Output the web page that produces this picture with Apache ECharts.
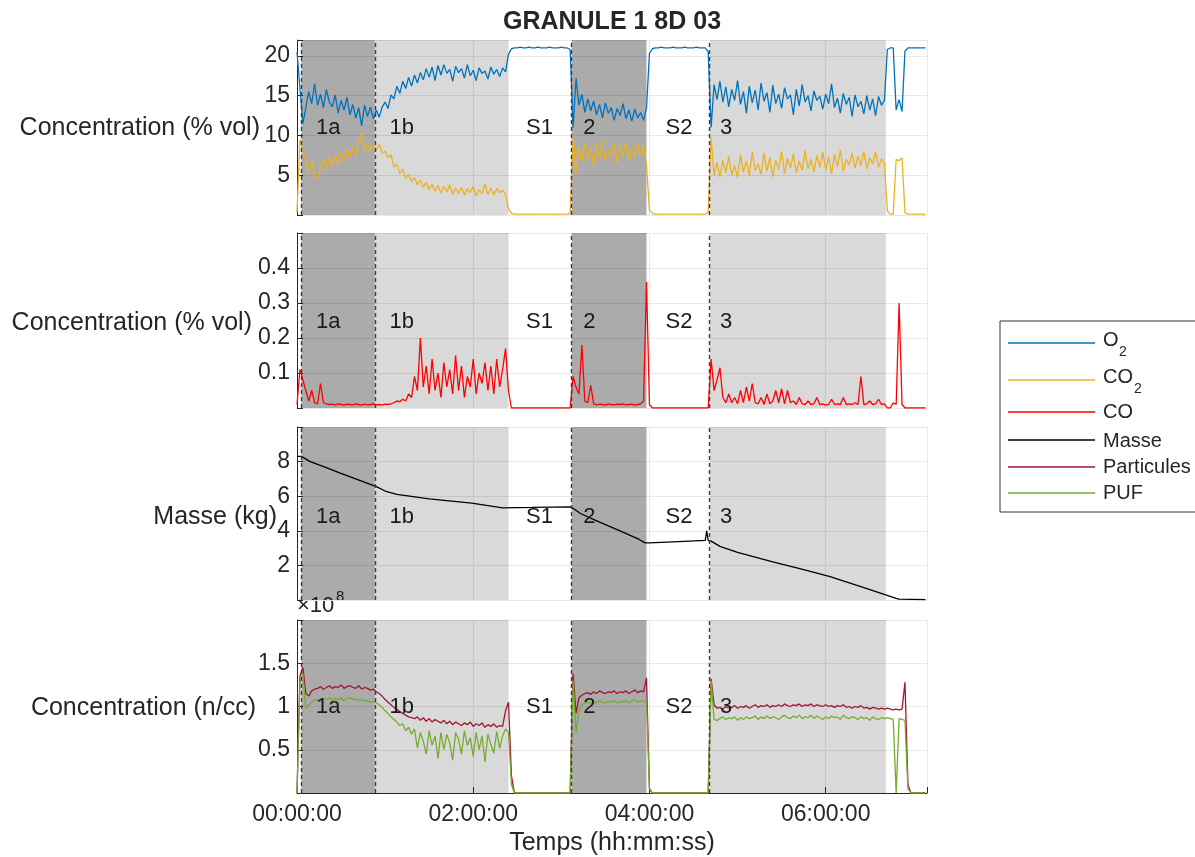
<!DOCTYPE html>
<html>
<head>
<meta charset="utf-8">
<script src="https://cdn.jsdelivr.net/npm/echarts@6/dist/echarts.min.js"></script>
<style>html,body{margin:0;padding:0;background:#fff}#c{width:1195px;height:857px}</style>
</head>
<body>
<div id="c"></div>
<script>
// ---------------- DATA ----------------
// gas & particle records sampled every STEP_MIN minutes from 00:00:00
const STEP_MIN = 2;

const o2 = [ // % vol
 20.5,16.0,11.5,13.5,15.5,14.0,16.5,13.8,15.2,13.5,
 15.8,14.2,13.6,15.1,12.8,14.4,13.2,14.8,12.6,13.9,
 12.2,13.5,11.2,13.8,12.4,13.6,12.1,13.2,12.3,13.6,
 14.2,13.4,15.1,14.6,16.2,15.3,16.8,15.9,17.3,16.2,
 17.6,16.6,17.9,17.0,18.4,17.3,18.6,16.9,18.8,17.6,
 18.9,17.8,18.3,16.8,18.7,17.9,18.4,17.2,18.9,17.5,
 18.2,16.9,18.5,17.8,18.1,17.1,18.6,17.7,18.3,17.4,
 18.5,18.0,20.2,20.9,21.0,21.0,21.1,21.0,21.0,21.1,
 21.0,21.0,21.1,21.0,21.0,21.0,21.1,21.0,21.0,21.0,
 21.1,21.0,21.0,20.8,11.0,17.2,13.8,15.2,12.9,14.6,
 13.1,14.3,12.6,13.9,12.2,14.1,12.8,13.5,11.9,13.4,
 12.5,14.0,12.1,13.2,11.8,13.3,12.2,12.9,11.9,13.5,
 20.3,20.9,21.0,21.0,21.1,21.0,21.0,21.0,21.1,21.0,
 21.0,21.0,21.1,21.0,21.0,21.0,21.1,21.0,21.0,21.0,
 20.5,11.0,16.4,14.5,16.8,14.2,16.1,13.6,15.8,14.4,
 16.9,13.9,15.5,12.8,16.2,14.1,15.7,13.2,16.6,14.3,
 15.4,12.9,16.3,14.0,15.2,13.4,16.0,14.6,15.1,12.6,
 15.8,13.7,16.4,14.2,15.0,13.1,15.6,14.4,14.9,13.3,
 15.2,14.0,16.5,13.5,14.7,12.8,15.3,13.9,14.8,12.4,
 15.1,13.6,14.3,12.7,15.0,13.2,14.6,12.5,14.9,13.8,
 14.4,20.8,21.0,21.0,13.2,14.5,13.0,20.6,21.0,21.0,
 21.0,21.0,21.0,21.0,21.0
];

const co2 = [ // % vol
 0.3,9.5,8.0,6.5,5.2,6.8,4.9,4.6,5.8,7.0,
 5.8,7.2,6.1,7.6,6.4,7.9,6.8,8.3,7.2,8.6,
 7.5,9.2,10.2,8.1,9.0,7.9,8.8,8.2,8.9,7.8,
 8.0,7.2,7.6,6.0,6.4,5.2,5.8,4.6,5.1,4.2,
 4.7,3.8,4.4,3.5,4.1,3.2,3.9,3.0,3.7,2.8,
 3.6,2.9,3.8,2.6,3.4,2.7,3.5,2.5,3.3,2.8,
 3.6,2.4,3.2,2.7,3.9,2.6,3.4,2.5,3.3,2.8,
 3.1,2.6,0.8,0.2,0.1,0.1,0.1,0.1,0.1,0.1,
 0.1,0.1,0.1,0.1,0.1,0.1,0.1,0.1,0.1,0.1,
 0.1,0.1,0.1,0.2,9.8,5.2,8.4,6.6,9.1,7.0,
 8.6,6.2,8.9,7.1,9.4,6.8,8.2,7.3,9.0,6.5,
 8.7,7.4,9.2,6.9,8.5,7.2,9.0,7.6,8.8,6.2,
 0.6,0.2,0.1,0.1,0.1,0.1,0.1,0.1,0.1,0.1,
 0.1,0.1,0.1,0.1,0.1,0.1,0.1,0.1,0.1,0.1,
 0.3,9.8,5.0,6.6,4.8,6.9,5.3,7.4,5.0,6.2,
 4.7,7.6,5.4,6.8,4.9,7.9,5.6,6.4,5.1,7.8,
 5.5,7.2,4.8,6.9,5.7,8.0,5.2,7.1,5.9,7.7,
 5.3,6.8,5.6,8.1,5.8,7.0,5.4,7.5,6.0,7.9,
 5.7,7.3,5.2,7.6,6.1,8.2,5.5,7.0,6.3,7.8,
 5.9,7.4,6.2,8.0,5.8,7.2,6.4,7.9,6.0,7.1,
 6.5,0.5,0.1,0.1,7.0,6.8,7.2,0.3,0.1,0.1,
 0.1,0.1,0.1,0.1,0.1
];

const co = [ // % vol
 0.01,0.11,0.08,0.05,0.02,0.05,0.015,0.012,0.07,0.015,
 0.012,0.01,0.011,0.009,0.012,0.01,0.008,0.011,0.01,0.009,
 0.012,0.01,0.008,0.011,0.009,0.01,0.012,0.009,0.01,0.008,
 0.011,0.01,0.012,0.015,0.02,0.018,0.025,0.02,0.04,0.03,
 0.09,0.05,0.2,0.06,0.12,0.04,0.14,0.05,0.1,0.03,
 0.13,0.06,0.11,0.04,0.15,0.05,0.12,0.03,0.09,0.06,
 0.14,0.04,0.1,0.07,0.13,0.05,0.12,0.04,0.14,0.06,
 0.11,0.17,0.05,0,0,0,0,0,0,0,
 0,0,0,0,0,0,0,0,0,0,
 0,0,0,0,0.09,0.06,0.04,0.18,0.02,0.015,
 0.065,0.012,0.009,0.011,0.01,0.008,0.012,0.01,0.009,0.011,
 0.01,0.012,0.009,0.01,0.011,0.008,0.01,0.012,0.02,0.36,
 0.01,0,0,0,0,0,0,0,0,0,
 0,0,0,0,0,0,0,0,0,0,
 0,0.14,0.05,0.08,0.115,0.03,0.015,0.04,0.015,0.03,
 0.012,0.05,0.015,0.06,0.02,0.07,0.015,0.012,0.03,0.01,
 0.04,0.012,0.02,0.05,0.015,0.055,0.012,0.05,0.015,0.02,
 0.01,0.03,0.012,0.01,0.02,0.01,0.012,0.03,0.01,0.012,
 0.008,0.01,0.025,0.01,0.012,0.01,0.03,0.01,0.012,0.01,
 0.015,0.01,0.09,0.01,0.012,0.02,0.01,0.012,0.025,0.01,
 0.012,0,0,0.015,0.01,0.3,0.01,0,0,0,
 0,0,0,0,0
];

const particules = [ // n/cc, x 1e8
 0.0,1.35,1.45,1.15,1.12,1.18,1.2,1.21,1.23,1.2,
 1.22,1.24,1.21,1.23,1.22,1.25,1.21,1.23,1.24,1.22,
 1.21,1.24,1.2,1.22,1.21,1.19,1.2,1.17,1.15,1.12,
 1.08,1.05,1.02,0.99,0.97,0.94,0.92,0.9,0.88,0.87,
 0.86,0.88,0.84,0.87,0.83,0.86,0.82,0.85,0.83,0.81,
 0.84,0.8,0.83,0.79,0.82,0.8,0.78,0.81,0.79,0.82,
 0.77,0.8,0.78,0.81,0.76,0.79,0.77,0.8,0.76,0.78,
 0.77,0.95,1.05,0.2,0,0,0,0,0,0,
 0,0,0,0,0,0,0,0,0,0,
 0,0,0,0,1.38,0.92,1.1,1.13,1.15,1.16,
 1.14,1.17,1.15,1.18,1.16,1.15,1.17,1.16,1.18,1.15,
 1.17,1.16,1.18,1.15,1.17,1.19,1.16,1.18,1.17,1.33,
 0.05,0,0,0,0,0,0,0,0,0,
 0,0,0,0,0,0,0,0,0,0,
 0,1.32,1.02,0.98,0.99,0.97,1.0,0.98,0.99,1.01,
 0.98,1.0,0.99,1.01,0.98,1.0,1.02,0.99,1.01,1.0,
 1.02,0.99,1.01,1.0,1.02,1.0,1.03,1.01,1.0,1.02,
 1.01,1.03,1.0,1.02,1.01,1.03,1.0,1.02,1.01,1.0,
 1.02,1.0,1.01,0.99,1.01,1.0,1.02,0.99,1.0,0.98,
 1.0,0.99,1.01,0.98,0.99,0.97,0.99,0.98,0.97,0.98,
 0.97,0.98,0.97,0.96,0.97,0.96,0.97,1.28,0.1,0,
 0,0,0,0,0
];

const puf = [ // n/cc, x 1e8
 0.0,1.28,1.38,0.98,1.02,1.05,1.07,1.08,1.06,1.09,
 1.08,1.1,1.07,1.09,1.08,1.1,1.07,1.09,1.1,1.08,
 1.09,1.07,1.08,1.06,1.07,1.05,1.06,1.04,1.02,0.99,
 0.95,0.92,0.88,0.85,0.82,0.78,0.8,0.72,0.76,0.68,
 0.74,0.52,0.7,0.6,0.45,0.72,0.55,0.66,0.4,0.7,
 0.5,0.68,0.58,0.38,0.7,0.62,0.45,0.72,0.55,0.64,
 0.42,0.7,0.5,0.66,0.36,0.68,0.56,0.46,0.71,0.52,
 0.66,0.74,0.7,0.1,0,0,0,0,0,0,
 0,0,0,0,0,0,0,0,0,0,
 0,0,0,0,1.3,0.7,0.95,1.02,1.04,1.05,
 1.03,1.06,1.04,1.07,1.05,1.04,1.06,1.05,1.07,1.04,
 1.06,1.05,1.07,1.04,1.06,1.08,1.05,1.07,1.06,1.05,
 0.05,0,0,0,0,0,0,0,0,0,
 0,0,0,0,0,0,0,0,0,0,
 0,1.3,0.85,0.84,0.86,0.88,0.85,0.87,0.86,0.88,
 0.84,0.87,0.85,0.88,0.86,0.87,0.89,0.85,0.88,0.86,
 0.89,0.86,0.88,0.87,0.85,0.88,0.9,0.87,0.86,0.89,
 0.87,0.9,0.86,0.88,0.87,0.9,0.86,0.89,0.87,0.85,
 0.88,0.86,0.89,0.87,0.88,0.85,0.9,0.87,0.86,0.88,
 0.87,0.85,0.88,0.86,0.87,0.84,0.88,0.86,0.85,0.87,
 0.86,0.87,0.86,0.85,0.0,0.86,0.85,0.84,0.05,0,
 0,0,0,0,0
];

// mass record (minutes, kg)
const massTime   = [0, 3, 9, 20, 29, 40, 54, 60, 68, 90, 119, 140, 160, 186, 188, 193, 206, 220, 233, 237, 240, 260, 278, 279, 280, 282, 288, 300, 324, 345, 363, 385, 408, 410, 428];
const massValues = [8.3, 8.3, 8.0, 7.65, 7.35, 7.0, 6.55, 6.3, 6.1, 5.85, 5.6, 5.33, 5.35, 5.38, 5.3, 5.0, 4.5, 4.0, 3.5, 3.3, 3.3, 3.38, 3.45, 4.0, 3.45, 3.4, 3.1, 2.75, 2.2, 1.75, 1.35, 0.75, 0.1, 0.05, 0.02];

// test phases (minutes)
const phaseNames  = ['1a', '1b', 'S1', '2', 'S2', '3'];
const phaseStart  = [3, 53, 144, 187, 238, 281];
const phaseEnd    = [53, 144, 187, 238, 281, 401];
const phaseShade  = ['dark', 'light', 'none', 'dark', 'none', 'light'];
const phaseLabelAt = [13, 63, 156, 195, 251, 288];
const dividerTimes = [3, 53, 187, 281];
const panelLabelLevel = [10.9, 0.245, 4.8, 0.99];

// axes
const X_MAX = 429;
const X_TICK = 120;
const yMax = [22, 0.5, 10, 2];
const yStep = [5, 0.1, 2, 0.5];

const seriesNames = ['O2', 'CO2', 'CO', 'Masse', 'Particules', 'PUF'];
const seriesColors = ['#0072BD', '#EDB120', '#FF0000', '#000000', '#A2142F', '#77AC30'];

// ---------------- CHART ----------------
const FONT = "'Liberation Sans', Arial, Helvetica, sans-serif";
const INK = '#262626';
const timeMin = o2.map((_, i) => i * STEP_MIN);
const pairs = vals => vals.map((v, i) => [timeMin[i], v]);

const GRIDS = [
  {top: 40, height: 175},
  {top: 233, height: 175},
  {top: 427, height: 173},
  {top: 620, height: 173}
];

const pad2 = n => (n < 10 ? '0' : '') + n;
const hms = v => {
  if (v % X_TICK !== 0) return '';
  const h = Math.floor(v / 60), m = v % 60;
  return pad2(h) + ':' + pad2(m) + ':00';
};

const xAxes = GRIDS.map((g, i) => ({
  gridIndex: i, type: 'value', min: 0, max: X_MAX, interval: X_TICK,
  axisLine: {show: i === 3, lineStyle: {color: INK, width: 1}},
  axisTick: {show: i === 3, inside: true, length: 6, lineStyle: {color: INK}},
  axisLabel: {show: i === 3, formatter: hms, fontSize: 23, color: INK, margin: 10, fontFamily: FONT},
  splitLine: {show: true, lineStyle: {color: '#e8e8e8', width: 1}}
}));

const yAxes = GRIDS.map((g, i) => ({
  gridIndex: i, type: 'value', min: 0, max: yMax[i], interval: yStep[i],
  axisLine: {show: true, lineStyle: {color: INK, width: 1}},
  axisTick: {show: true, inside: true, length: 6, lineStyle: {color: INK}},
  axisLabel: {
    fontSize: 23, color: INK, margin: 7, fontFamily: FONT,
    formatter: v => (v <= 0 || v >= yMax[i] - 1e-9) ? '' : String(+v.toFixed(2))
  },
  splitLine: {show: true, lineStyle: {color: '#e8e8e8', width: 1}}
}));

const series = [];
GRIDS.forEach((g, i) => {
  // shaded phases
  series.push({
    type: 'line', xAxisIndex: i, yAxisIndex: i, data: [], silent: true, z: 1,
    markArea: {
      silent: true,
      data: phaseStart.map((s, k) => phaseShade[k] === 'none' ? null : [
        {xAxis: s, itemStyle: {color: phaseShade[k] === 'dark' ? 'rgba(0,0,0,0.33)' : 'rgba(0,0,0,0.15)'}},
        {xAxis: phaseEnd[k]}
      ]).filter(Boolean)
    }
  });
  // dashed phase dividers
  series.push({
    type: 'line', xAxisIndex: i, yAxisIndex: i, data: [], silent: true, z: 2,
    markLine: {
      silent: true, symbol: 'none', label: {show: false},
      lineStyle: {type: [4, 3], color: '#3c3c3c', width: 1.4},
      data: dividerTimes.map(t => ({xAxis: t}))
    }
  });
  // phase labels
  series.push({
    type: 'scatter', xAxisIndex: i, yAxisIndex: i, symbolSize: 0, silent: true, z: 4,
    itemStyle: {opacity: 1},
    data: phaseNames.map((n, k) => ({name: n, value: [phaseLabelAt[k], panelLabelLevel[i]]})),
    label: {show: true, formatter: '{b}', position: 'right', distance: 0, fontSize: 22,
      color: '#1a1a1a', opacity: 1, fontFamily: FONT}
  });
});

const lineSeries = (name, xi, data, color, z) => ({
  name, type: 'line', xAxisIndex: xi, yAxisIndex: xi, data, showSymbol: false, z: z || 3,
  lineStyle: {color, width: 1.3}, itemStyle: {color}, silent: true
});
series.push(lineSeries('O2', 0, pairs(o2), seriesColors[0]));
series.push(lineSeries('CO2', 0, pairs(co2), seriesColors[1]));
series.push(lineSeries('CO', 1, pairs(co), seriesColors[2]));
series.push(lineSeries('Masse', 2, massTime.map((t, k) => [t, massValues[k]]), seriesColors[3]));
series.push(lineSeries('Particules', 3, pairs(particules), seriesColors[4]));
series.push(lineSeries('PUF', 3, pairs(puf), seriesColors[5]));

// legend & texts (graphic)
const txt = (text, x, y, size, align, extra) => ({
  type: 'text', x, y, silent: true,
  style: Object.assign({text, fill: INK, font: (extra && extra.bold ? 'bold ' : '') + size + 'px ' + FONT,
    align: align || 'left', verticalAlign: 'middle'})
});
const legendY = [343, 380, 412, 440, 467, 493];
const legendTextY = [340, 377, 412, 441, 467, 493];
const graphics = [
  txt('GRANULE 1 8D 03', 612, 22, 25, 'center', {bold: true}),
  txt('Concentration (% vol)', 260, 128, 25, 'right'),
  txt('Concentration (% vol)', 252, 323, 25, 'right'),
  txt('Masse (kg)', 277, 517, 25, 'right'),
  txt('Concentration (n/cc)', 256, 708, 25, 'right'),
  txt('Temps (hh:mm:ss)', 612, 843, 25, 'center'),
  txt('\u00d710', 297, 606, 22, 'left'),
  txt('8', 336, 597, 15, 'left'),
  {type: 'rect', silent: true, shape: {x: 1000, y: 321, width: 230, height: 191},
   style: {fill: '#fff', stroke: '#333', lineWidth: 1}}
];
seriesNames.forEach((n, k) => {
  graphics.push({type: 'line', silent: true, shape: {x1: 1008, y1: legendY[k], x2: 1095, y2: legendY[k]},
    style: {stroke: seriesColors[k], lineWidth: 1.3}});
  if (n === 'O2' || n === 'CO2') {
    const base = n.slice(0, -1);
    graphics.push(txt(base, 1103, legendTextY[k], 20, 'left'));
    graphics.push(txt('2', base === 'O' ? 1119 : 1134, legendTextY[k] + 12, 14, 'left'));
  } else {
    graphics.push(txt(n, 1103, legendTextY[k], 20, 'left'));
  }
});

const chart = echarts.init(document.getElementById('c'));
chart.setOption({
  animation: false,
  backgroundColor: '#fff',
  textStyle: {fontFamily: FONT},
  grid: GRIDS.map(g => ({left: 297, width: 630, top: g.top, height: g.height})),
  xAxis: xAxes,
  yAxis: yAxes,
  series,
  graphic: graphics
});
</script>
</body>
</html>
